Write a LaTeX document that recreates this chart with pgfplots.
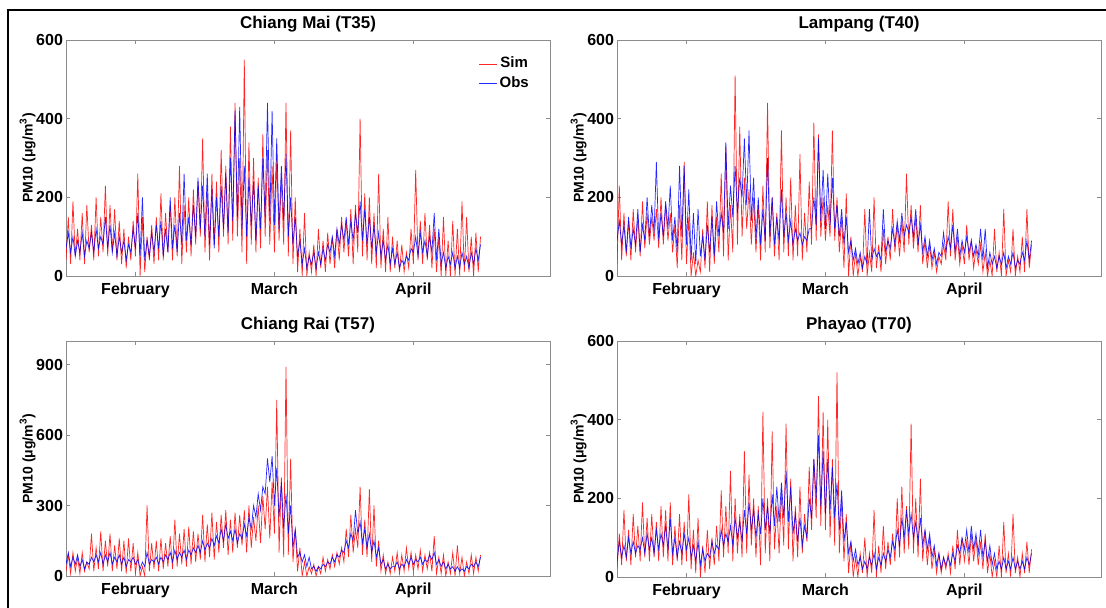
\documentclass[border=0pt]{standalone}
\usepackage{fontspec}
\setmainfont{Liberation Sans}
\usepackage{pgfplots}
\usepackage{pgfplotstable}
\pgfplotsset{compat=1.18}

% two rows per day (night low, day high), step 0.5 day; s = Sim, o = Obs
\pgfplotstableread[row sep=\\]{s o\\
40 70\\150 110\\ 30 60\\190 100\\ 50 50\\120 90\\ 40 60\\160 110\\ 30 50\\180 90\\
60 70\\130 110\\ 40 60\\200 120\\ 50 70\\150 100\\ 60 80\\230 150\\ 50 70\\180 130\\
60 60\\170 110\\ 40 50\\140 100\\ 30 60\\120 90\\ 20 40\\100 80\\ 40 60\\140 120\\
50 70\\260 160\\ 0 50\\150 200\\ 10 40\\100 90\\ 40 50\\130 110\\ 30 60\\150 130\\
40 70\\210 140\\ 40 50\\160 120\\ 60 60\\180 200\\ 40 70\\200 130\\ 50 60\\280 160\\
30 80\\180 260\\ 60 90\\200 150\\ 50 80\\220 180\\ 80 100\\240 250\\ 100 120\\350 230\\
60 100\\220 260\\ 40 80\\260 220\\ 80 70\\240 200\\ 60 100\\320 230\\ 100 120\\280 260\\
80 110\\380 300\\ 90 140\\440 420\\ 100 150\\300 430\\ 60 120\\550 280\\ 30 100\\340 250\\
80 130\\300 240\\ 60 90\\250 230\\ 70 120\\360 300\\ 100 150\\320 440\\ 80 140\\280 420\\
60 130\\300 350\\ 90 120\\250 280\\ 80 140\\440 310\\ 50 100\\370 200\\ 30 80\\200 150\\
10 50\\120 90\\ 0 30\\160 70\\ 0 20\\60 50\\ 10 30\\80 60\\ 0 20\\120 60\\
20 30\\90 70\\ 10 40\\110 80\\ 30 60\\100 100\\ 20 50\\120 120\\ 40 80\\150 130\\
60 90\\140 150\\ 50 80\\170 140\\ 30 90\\180 160\\ 60 110\\400 190\\ 50 90\\210 170\\
40 80\\200 150\\ 30 70\\160 130\\ 20 60\\260 110\\ 20 50\\120 90\\ 10 40\\150 80\\
10 30\\100 70\\ 20 30\\90 60\\ 10 20\\80 40\\ 10 30\\60 50\\ 20 40\\120 70\\
30 60\\270 100\\ 40 50\\140 110\\ 30 60\\160 90\\ 40 50\\130 100\\ 20 60\\120 160\\
10 40\\100 120\\ 0 30\\150 60\\ 0 20\\90 50\\ 0 30\\140 60\\ 0 20\\120 50\\
0 20\\190 60\\ 10 30\\150 50\\ 10 20\\100 60\\ 0 30\\110 70\\ 10 40\\100 80\\
}\cmdata

\pgfplotstableread[row sep=\\]{s o\\
30 90\\230 140\\ 40 80\\160 130\\ 50 60\\140 150\\ 40 70\\170 120\\ 60 80\\150 170\\
50 60\\190 130\\ 70 90\\160 200\\ 80 100\\150 180\\ 90 110\\170 290\\ 70 90\\200 160\\
80 100\\180 190\\ 90 120\\160 230\\ 60 90\\130 150\\ 20 60\\180 280\\ 40 100\\290 280\\
30 80\\150 220\\ 0 40\\60 160\\ 0 30\\40 170\\ 10 50\\120 100\\ 20 40\\190 130\\
10 60\\180 150\\ 30 50\\150 190\\ 60 100\\260 160\\ 50 110\\330 340\\ 40 120\\180 230\\
60 150\\510 280\\ 80 160\\380 250\\ 100 200\\250 350\\ 120 180\\220 370\\ 80 140\\200 250\\
60 90\\180 200\\ 40 80\\230 170\\ 60 90\\440 300\\ 70 100\\200 200\\ 50 80\\160 150\\
40 90\\370 220\\ 60 100\\200 160\\ 50 90\\250 140\\ 40 80\\180 120\\ 50 90\\310 110\\
40 80\\160 100\\ 60 90\\240 120\\ 80 120\\390 200\\ 90 130\\360 350\\ 100 140\\200 270\\
90 120\\180 260\\ 100 130\\370 250\\ 90 120\\200 180\\ 60 100\\150 170\\ 20 80\\210 150\\
0 60\\100 90\\ 0 40\\60 70\\ 0 30\\50 60\\ 10 20\\170 50\\ 0 30\\60 170\\
10 40\\200 70\\ 20 50\\80 60\\ 10 40\\120 170\\ 30 60\\100 90\\ 40 70\\170 120\\
60 80\\130 140\\ 50 90\\140 160\\ 60 100\\260 130\\ 80 110\\180 150\\ 70 100\\150 170\\
60 80\\180 130\\ 30 60\\90 100\\ 20 50\\80 90\\ 20 40\\60 70\\ 10 30\\50 60\\
30 50\\80 110\\ 40 60\\190 100\\ 50 70\\170 130\\ 40 60\\100 120\\ 30 50\\80 90\\
30 60\\130 100\\ 40 60\\90 90\\ 20 50\\70 80\\ 30 50\\80 120\\ 10 40\\60 120\\
0 20\\40 60\\ 0 30\\120 50\\ 10 20\\60 50\\ 0 30\\170 60\\ 0 20\\40 50\\
10 30\\120 60\\ 0 20\\50 40\\ 10 30\\100 60\\ 10 40\\170 90\\ 20 40\\80 90\\
}\lpdata

\pgfplotstableread[row sep=\\]{s o\\
20 50\\90 100\\ 10 40\\100 80\\ 20 50\\80 90\\ 10 40\\100 70\\ 20 30\\60 60\\
30 50\\180 80\\ 20 60\\120 90\\ 30 60\\190 100\\ 20 50\\150 90\\ 40 60\\180 100\\
20 50\\130 80\\ 30 60\\160 90\\ 20 50\\150 80\\ 10 40\\160 70\\ 20 60\\140 80\\
10 50\\100 70\\ 0 30\\40 60\\ 0 40\\300 100\\ 20 50\\140 70\\ 30 60\\150 80\\
20 50\\160 80\\ 30 60\\140 90\\ 40 70\\170 100\\ 30 60\\240 110\\ 40 70\\180 100\\
50 80\\200 110\\ 40 70\\210 110\\ 50 90\\190 120\\ 60 100\\180 130\\ 70 100\\260 150\\
60 110\\220 140\\ 80 120\\270 160\\ 70 130\\230 170\\ 100 140\\260 200\\ 120 150\\280 220\\
90 160\\240 190\\ 100 150\\270 200\\ 120 140\\260 180\\ 130 160\\280 220\\ 100 170\\300 250\\
120 200\\250 300\\ 150 250\\300 350\\ 140 280\\340 380\\ 200 350\\380 500\\ 160 400\\400 510\\
180 300\\750 460\\ 100 250\\420 400\\ 80 200\\890 350\\ 90 180\\500 300\\ 60 120\\200 200\\
20 80\\120 100\\ 0 60\\60 90\\ 0 40\\40 80\\ 10 30\\50 40\\ 0 20\\40 40\\
10 30\\80 50\\ 20 40\\70 60\\ 30 50\\90 80\\ 40 60\\100 90\\ 50 80\\120 110\\
60 100\\200 150\\ 80 120\\260 180\\ 100 150\\200 280\\ 120 180\\380 230\\ 90 140\\240 200\\
80 120\\370 180\\ 60 100\\300 150\\ 40 80\\150 120\\ 20 50\\90 70\\ 10 30\\60 50\\
10 30\\80 40\\ 20 40\\100 60\\ 10 30\\90 50\\ 20 40\\120 70\\ 30 50\\100 80\\
20 50\\90 70\\ 30 60\\110 80\\ 20 50\\90 70\\ 30 60\\100 90\\ 20 70\\170 100\\
10 50\\80 70\\ 10 40\\90 60\\ 0 30\\60 50\\ 10 30\\100 40\\ 0 20\\130 40\\
10 20\\80 30\\ 0 20\\60 40\\ 10 30\\90 50\\ 10 40\\80 60\\ 20 40\\90 80\\
}\crdata

\pgfplotstableread[row sep=\\]{s o\\
20 40\\110 90\\ 30 50\\170 80\\ 40 50\\120 100\\ 30 60\\160 90\\ 50 60\\130 80\\
40 70\\190 100\\ 50 60\\150 110\\ 40 70\\160 100\\ 50 60\\140 120\\ 40 70\\180 110\\
50 80\\170 130\\ 40 70\\190 150\\ 30 60\\130 100\\ 40 50\\160 90\\ 30 60\\140 110\\
40 70\\210 100\\ 20 50\\120 80\\ 10 40\\150 90\\ 0 30\\80 70\\ 10 40\\120 60\\
20 50\\100 90\\ 30 60\\130 80\\ 40 70\\220 120\\ 50 80\\180 110\\ 60 90\\270 130\\
40 80\\200 150\\ 60 100\\160 140\\ 50 90\\320 170\\ 60 110\\260 190\\ 80 120\\200 170\\
50 100\\180 160\\ 30 110\\420 200\\ 60 120\\200 180\\ 40 110\\370 210\\ 70 130\\180 230\\
60 140\\220 240\\ 80 150\\390 270\\ 70 140\\250 230\\ 40 110\\180 160\\ 50 90\\230 150\\
60 80\\160 130\\ 90 100\\280 200\\ 120 150\\300 300\\ 150 200\\460 360\\ 130 180\\420 320\\
120 160\\400 300\\ 100 170\\300 280\\ 80 150\\520 240\\ 60 120\\200 220\\ 40 90\\160 140\\
10 60\\90 90\\ 0 40\\50 70\\ 0 30\\60 50\\ 10 20\\100 40\\ 0 20\\60 50\\
10 30\\170 60\\ 0 20\\80 50\\ 10 30\\130 60\\ 20 40\\90 70\\ 30 50\\110 90\\
40 70\\200 120\\ 50 80\\230 150\\ 60 100\\180 170\\ 70 110\\390 160\\ 60 100\\200 140\\
50 90\\250 150\\ 40 80\\120 120\\ 30 70\\100 110\\ 20 50\\70 80\\ 10 30\\60 60\\
10 20\\50 50\\ 20 30\\60 50\\ 10 30\\80 60\\ 20 40\\120 80\\ 30 60\\100 100\\
40 70\\90 120\\ 30 60\\110 130\\ 40 70\\100 110\\ 30 60\\90 120\\ 20 50\\110 90\\
10 40\\60 80\\ 0 30\\40 60\\ 0 20\\80 40\\ 0 20\\140 50\\ 10 20\\60 40\\
0 20\\160 50\\ 10 20\\50 40\\ 0 20\\60 40\\ 10 20\\90 50\\ 10 30\\70 60\\
}\phdata

\pgfplotsset{
  panel/.style={
    scale only axis, width=242pt, height=118pt,
    xmin=0, xmax=104.5, ymin=0,
    xtick={15,45,75}, xticklabels={February,March,April},
    axis line style={black!45, line width=0.5pt},
    tick style={black!45, line width=0.5pt},
    tick align=inside, major tick length=2pt,
    /pgf/number format/assume math mode=true,
    ticklabel style={font=\bfseries\fontsize{8}{9}\selectfont, text=black},
    yticklabel style={xshift=2pt},
    title style={font=\bfseries\fontsize{8.5}{9}\selectfont, yshift=-5.5pt},
    ylabel={PM10 (μg/m\textsuperscript{3})},
    ylabel style={font=\bfseries\fontsize{7}{8}\selectfont, yshift=-6.5pt},
    clip=true,
  },
  sim/.style={red, line width=0.35pt, opacity=0.85},
  obs/.style={blue, line width=0.35pt, opacity=0.85},
}

\begin{document}
\begin{tikzpicture}
\useasboundingbox (0,0) rectangle (553pt,303.5pt);

\begin{axis}[panel, at={(33pt,165.5pt)}, anchor=south west,
  ymax=600, ytick={0,200,400,600}, title={Chiang Mai (T35)},
  legend style={draw=none, fill=none, at={(0.962,0.94)}, anchor=north east,
    font=\bfseries\fontsize{7.5}{8}\selectfont, row sep=0.5pt,
    inner sep=0pt, nodes={inner sep=1.2pt}},
  legend image code/.code={\draw[#1] (0pt,0pt) -- (9pt,0pt);}]
\addplot[sim] table[x expr=\coordindex*0.5, y=s] {\cmdata};
\addlegendentry{Sim}
\addplot[obs] table[x expr=\coordindex*0.5, y=o] {\cmdata};
\addlegendentry{Obs}
\end{axis}

\begin{axis}[panel, at={(308.5pt,165.5pt)}, anchor=south west,
  ymax=600, ytick={0,200,400,600}, title={Lampang (T40)}]
\addplot[sim] table[x expr=\coordindex*0.5, y=s] {\lpdata};
\addplot[obs] table[x expr=\coordindex*0.5, y=o] {\lpdata};
\end{axis}

\begin{axis}[panel, at={(33pt,15.5pt)}, anchor=south west, height=117.5pt,
  ymax=1000, ytick={0,300,600,900}, title={Chiang Rai (T57)}]
\addplot[sim] table[x expr=\coordindex*0.5, y=s] {\crdata};
\addplot[obs] table[x expr=\coordindex*0.5, y=o] {\crdata};
\end{axis}

\begin{axis}[panel, at={(308.5pt,15pt)}, anchor=south west,
  ymax=600, ytick={0,200,400,600}, title={Phayao (T70)}]
\addplot[sim] table[x expr=\coordindex*0.5, y=s] {\phdata};
\addplot[obs] table[x expr=\coordindex*0.5, y=o] {\phdata};
\end{axis}

\draw[line width=1.2pt] (4pt,-2pt) -- (4pt,298.5pt) -- (556pt,298.5pt);
\end{tikzpicture}
\end{document}
